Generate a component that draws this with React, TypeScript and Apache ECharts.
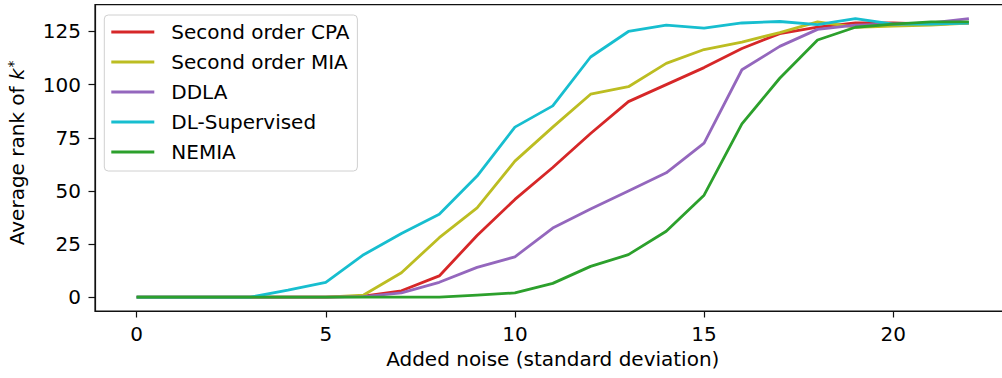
import React, { useEffect, useRef } from "react";
import * as echarts from "echarts";

const noise = [0, 1, 2, 3, 4, 5, 6, 7, 8, 9, 10, 11, 12, 13, 14, 15, 16, 17, 18, 19, 20, 21, 22];
const cpa = [0, 0, 0, 0, 0, 0, 0.5, 3, 10, 29, 46, 61, 77, 92, 100, 108, 117, 124, 127, 129, 129, 128.5, 129];
const mia = [0, 0, 0, 0, 0, 0, 1, 11.5, 28, 42, 64, 80, 95.5, 99, 110, 116.5, 120, 124.5, 129.5, 127, 127.5, 128, 129];
const ddla = [0, 0, 0, 0, 0, 0, 0.3, 2, 7, 14, 19, 32.5, 41.5, 50, 58.5, 72.5, 107, 118, 126, 128, 128.5, 129, 131];
const dlSup = [0, 0, 0, 0, 3.3, 7, 20, 30, 39, 57, 80, 90, 113, 125, 128, 126.6, 129, 129.7, 128.2, 131, 128.5, 128.5, 129];
const nemia = [0, 0, 0, 0, 0, 0, 0, 0, 0, 1, 2, 6.5, 14.5, 20, 31, 48, 81.5, 103, 121, 127, 128.5, 129.5, 129.5];

const seriesNames = ["Second order CPA", "Second order MIA", "DDLA", "DL-Supervised", "NEMIA"];
const seriesColors = ["#d62728", "#bcbd22", "#9467bd", "#17becf", "#2ca02c"];
const seriesValues = [cpa, mia, ddla, dlSup, nemia];
const xTicks = [0, 5, 10, 15, 20];
const yTicks = [0, 25, 50, 75, 100, 125];

const FONT = "DejaVu Sans";
const FS = 20;

export default function App() {
  const ref = useRef<HTMLDivElement>(null);
  useEffect(() => {
    if (!ref.current) return;
    const chart = echarts.init(ref.current, undefined, { renderer: "svg" });
    chart.setOption({
      animation: false,
      textStyle: { fontFamily: FONT },
      grid: {
        left: 95,
        top: 4.7,
        bottom: 67,
        right: -8.5,
        outerBoundsMode: "none",
        containLabel: false,
        show: true,
        borderColor: "#111",
        borderWidth: 1.2,
        backgroundColor: "transparent",
      },
      legend: {
        orient: "vertical",
        left: 104.3,
        top: 15,
        icon: "rect",
        itemWidth: 43,
        itemHeight: 3,
        itemGap: 8,
        padding: [6, 8, 8, 7],
        borderColor: "#d0d0d0",
        borderWidth: 1,
        borderRadius: 4,
        backgroundColor: "rgba(255,255,255,0.8)",
        textStyle: {
          fontFamily: FONT,
          fontSize: FS,
          color: "#000",
          lineHeight: 22,
          padding: [0, 0, 0, 12],
        },
        data: seriesNames,
      },
      xAxis: {
        type: "value",
        min: -1.1,
        max: 23.1,
        name: "Added noise (standard deviation)",
        nameLocation: "middle",
        nameGap: 36,
        nameTextStyle: { fontFamily: FONT, fontSize: FS, color: "#000" },
        axisLine: { show: true, onZero: false, lineStyle: { color: "#111", width: 1.2 } },
        splitLine: { show: false },
        axisTick: {
          show: true,
          inside: false,
          length: 6.5,
          lineStyle: { color: "#111", width: 1.2 },
          customValues: xTicks,
        },
        axisLabel: {
          margin: 13,
          fontFamily: FONT,
          fontSize: FS,
          color: "#000",
          customValues: xTicks,
        },
      },
      yAxis: {
        type: "value",
        min: -6.5,
        max: 137.6,
        name: "Average rank of {i|k}{s|*}",
        nameLocation: "middle",
        nameRotate: 90,
        nameGap: 68,
        nameTextStyle: {
          fontFamily: FONT,
          fontSize: FS,
          color: "#000",
          padding: [0, 0, 0, 10],
          rich: {
            i: { fontFamily: FONT, fontSize: FS, fontStyle: "italic", color: "#000" },
            s: { fontFamily: FONT, fontSize: 14, color: "#000", verticalAlign: "top", padding: [0, 0, 7, 1] },
          },
        },
        axisLine: { show: true, onZero: false, lineStyle: { color: "#111", width: 1.2 } },
        splitLine: { show: false },
        axisTick: {
          show: true,
          inside: false,
          length: 6.5,
          lineStyle: { color: "#111", width: 1.2 },
          customValues: yTicks,
        },
        axisLabel: {
          margin: 14,
          fontFamily: FONT,
          fontSize: FS,
          color: "#000",
          customValues: yTicks,
        },
      },
      series: seriesNames.map((name, i) => ({
        name,
        type: "line",
        data: noise.map((x, j) => [x, seriesValues[i][j]]),
        symbol: "none",
        color: seriesColors[i],
        lineStyle: { color: seriesColors[i], width: 2.8 },
        z: 2 + i,
      })),
    });
    return () => chart.dispose();
  }, []);
  return (
    <div
      ref={ref}
      style={{ position: "fixed", left: 0, top: 0, width: 1002, height: 378, background: "#fff" }}
    />
  );
}
